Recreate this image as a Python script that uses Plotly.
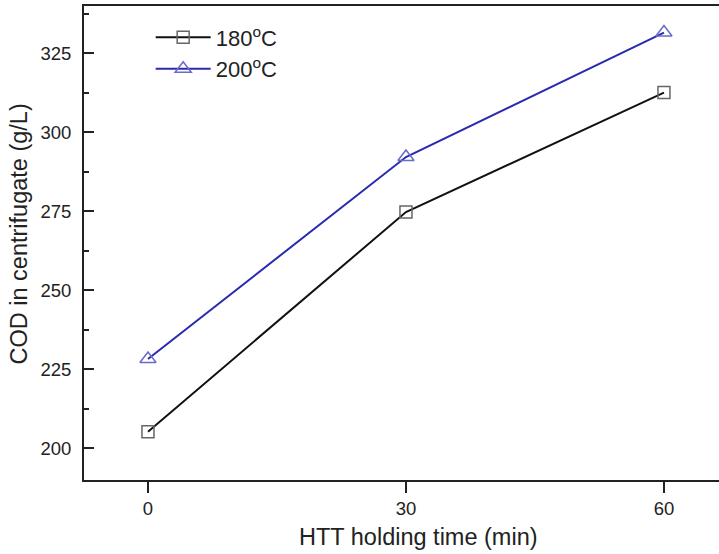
import plotly.graph_objects as go

time_min = [0, 30, 60]
cod_180 = [205.3, 274.8, 312.6]
cod_200 = [228.3, 292.2, 331.6]
series_names = ["180<sup>o</sup>C", "200<sup>o</sup>C"]
y_ticks = [200, 225, 250, 275, 300, 325]
y_minor = [212.5, 237.5, 262.5, 287.5, 312.5, 337.5]
x_ticks = [0, 30, 60]
x_title = "HTT holding time (min)"
y_title = "COD in centrifugate (g/L)"

FONT = "Liberation Sans, Arial, sans-serif"
INK = "#222222"

fig = go.Figure()
fig.add_trace(go.Scatter(
    x=time_min, y=cod_180, name=series_names[0], mode="lines+markers",
    line=dict(color="#111111", width=2),
    marker=dict(symbol="square-open", size=12, color="#666666", line=dict(width=1.5)),
))
fig.add_trace(go.Scatter(
    x=time_min, y=cod_200, name=series_names[1], mode="lines+markers",
    line=dict(color="#2a2ab0", width=2),
    marker=dict(symbol="triangle-up-open", size=14, color="#6a6ac8", line=dict(width=1.5)),
))

fig.update_layout(
    width=719, height=554,
    margin=dict(l=84, r=0, t=6, b=74),
    paper_bgcolor="white", plot_bgcolor="white",
    font=dict(family=FONT, color=INK, size=18.5),
    showlegend=True,
    legend=dict(x=0.105, y=0.978, xanchor="left", yanchor="top", itemwidth=55,
                bgcolor="rgba(0,0,0,0)", font=dict(family=FONT, size=22, color=INK),
                tracegroupgap=0),
    xaxis=dict(
        range=[-7.44, 66.4], tickvals=x_ticks, ticks="outside", ticklen=11, tickwidth=2,
        tickcolor=INK, showline=True, linecolor=INK, linewidth=2, mirror=True,
        showgrid=False, zeroline=False, tickfont=dict(family=FONT, size=18.5, color=INK),
    ),
    yaxis=dict(
        range=[190, 340], tickvals=y_ticks, ticks="inside", ticklen=10, tickwidth=2,
        tickcolor=INK, showline=True, linecolor=INK, linewidth=2, mirror=False,
        showgrid=False, zeroline=False, tickfont=dict(family=FONT, size=18.5, color=INK),
        ticklabelstandoff=7,
        minor=dict(tickvals=y_minor, ticks="inside", ticklen=5, tickwidth=2, tickcolor=INK),
    ),
    annotations=[
        dict(text=x_title, xref="paper", yref="paper", x=0.526, y=-0.120,
             xanchor="center", yanchor="middle", showarrow=False,
             font=dict(family=FONT, size=23.5, color=INK)),
        dict(text=y_title, xref="paper", yref="paper", x=-0.1024, y=0.520,
             xanchor="center", yanchor="middle", showarrow=False, textangle=-90,
             font=dict(family=FONT, size=23.5, color=INK)),
    ],
)

fig.write_html("out.html")
